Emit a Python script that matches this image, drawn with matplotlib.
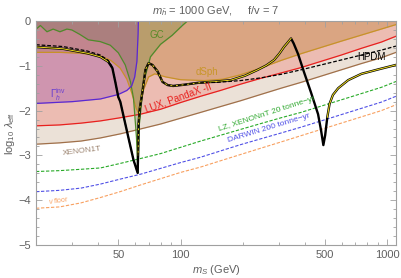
import numpy as np
import matplotlib
matplotlib.use("Agg")
import matplotlib.pyplot as plt
from matplotlib.ticker import FixedLocator, FixedFormatter, NullFormatter

plt.rcParams['font.family'] = ['Liberation Sans', 'DejaVu Sans']
plt.rcParams['mathtext.fontset'] = 'custom'
plt.rcParams['mathtext.rm'] = 'Liberation Sans'
plt.rcParams['mathtext.it'] = 'Liberation Sans:italic'

# direct detection limits (shared mass grid)
dd_m = [20, 26, 33, 41, 51, 64, 80, 100, 125, 156, 195, 244, 306, 382, 478, 598, 748, 935, 1100]
xenon1t_v = [-2.75, -2.72, -2.68, -2.61, -2.52, -2.41, -2.30, -2.17, -2.04, -1.91, -1.78, -1.64, -1.50, -1.37, -1.23, -1.09, -0.95, -0.82, -0.70]
lux_v = [-2.34, -2.32, -2.28, -2.23, -2.16, -2.08, -1.97, -1.82, -1.68, -1.55, -1.41, -1.28, -1.16, -1.04, -0.90, -0.76, -0.61, -0.47, -0.34]
lz_v = [-3.36, -3.34, -3.31, -3.28, -3.18, -3.07, -2.96, -2.82, -2.68, -2.55, -2.42, -2.29, -2.16, -2.04, -1.90, -1.76, -1.62, -1.48, -1.35]
darwin_v = [-3.81, -3.78, -3.73, -3.64, -3.53, -3.42, -3.29, -3.16, -3.04, -2.90, -2.76, -2.63, -2.50, -2.37, -2.23, -2.09, -1.95, -1.81, -1.68]
nufloor_v = [-4.18, -4.15, -4.06, -3.94, -3.81, -3.66, -3.52, -3.38, -3.26, -3.12, -2.98, -2.84, -2.70, -2.56, -2.42, -2.28, -2.14, -2.00, -1.87]

# dwarf spheroidal limit
dsph_m = [20, 26, 33, 41, 46, 51, 55, 58, 61, 62.5, 64, 66, 70, 75, 85, 100, 130, 160, 195, 244, 306, 382, 598, 1100]
dsph_v = [-0.70, -0.70, -0.72, -0.78, -0.88, -1.05, -1.30, -1.60, -1.95, -2.05, -1.90, -1.55, -1.25, -1.18, -1.25, -1.31, -1.33, -1.30, -1.20, -1.05, -0.88, -0.73, -0.45, -0.08]

# galactic centre
gc_m = [19.8, 21.0, 22.6, 24.2, 26.1, 28.2, 29.8, 32.6, 35.8, 40.9, 45.7, 50.0, 54.0, 57.2, 59.2, 61.2, 62.2, 63.2, 66.3, 71.5, 80.0, 91.0, 102, 108]
gc_v = [-0.20, -0.10, -0.24, -0.18, -0.24, -0.18, -0.20, -0.30, -0.42, -0.46, -0.54, -0.71, -0.98, -1.35, -1.72, -2.60, -3.40, -2.30, -1.36, -0.80, -0.52, -0.32, -0.10, 0.0]

# invisible Higgs width
ginv_m = [20, 30, 41, 50, 55, 58, 60, 61.5, 62.3, 62.5]
ginv_v = [-1.84, -1.80, -1.74, -1.64, -1.55, -1.45, -1.25, -0.90, -0.30, 0.0]

# relic abundance curve
relic_m = [20, 27, 35.4, 40.9, 44.7, 46.8, 48.4, 50.0, 51.1, 55.3, 59.2, 62.0, 62.3, 62.6, 63.5, 65.4, 67.6, 70.0,
           73.1, 77.3, 81.8, 86.6, 92, 105, 121.5, 150, 175, 205, 236, 260, 283, 300, 316, 331, 342, 352, 370, 395,
           426, 462, 478, 490, 500, 512, 525, 545, 578, 646, 748, 903, 1100]
relic_v = [-0.58, -0.62, -0.72, -0.80, -0.91, -1.05, -1.37, -1.70, -1.80, -2.50, -3.10, -3.39, -3.00, -2.30, -1.95,
           -1.58, -1.09, -0.94, -0.98, -1.12, -1.36, -1.43, -1.45, -1.42, -1.38, -1.35, -1.32, -1.22, -1.09, -0.99,
           -0.87, -0.73, -0.58, -0.47, -0.39, -0.50, -0.74, -1.14, -1.58, -2.08, -2.45, -2.77, -2.55, -2.15, -1.85,
           -1.65, -1.50, -1.32, -1.18, -1.08, -0.98]

# HPDM
hpdm_m = [20, 27, 35.4, 40.9, 44.7, 46.8, 48.4, 50.0, 51.1, 55.3, 59.2, 62.0, 62.3, 62.6, 63.5, 65.4, 67.6, 70.0,
          73.1, 77.3, 81.8, 86.6, 92, 105, 121.5, 150, 195, 244, 306, 382, 478, 598, 748, 935, 1100]
hpdm_v = [-0.53, -0.57, -0.67, -0.76, -0.88, -1.03, -1.36, -1.70, -1.80, -2.50, -3.10, -3.39, -3.00, -2.30, -1.95,
          -1.58, -1.09, -0.94, -0.98, -1.12, -1.36, -1.43, -1.45, -1.42, -1.38, -1.37, -1.33, -1.27, -1.19, -1.09,
          -0.98, -0.87, -0.76, -0.65, -0.56]

x_major = [50, 100, 500, 1000]
x_minor = [20, 30, 40, 60, 70, 80, 90, 200, 300, 400, 600, 700, 800, 900]
y_major = [0, -1, -2, -3, -4, -5]

fig = plt.figure(figsize=(4.02, 2.78), dpi=100)
ax = fig.add_axes([36/402, 1-245/278, 360/402, 224/278])
ax.set_xscale('log')
ax.set_xlim(20, 1100)
ax.set_ylim(-5, 0)

# shaded exclusion regions
ax.fill_between(dd_m, xenon1t_v, 0, color='#ebe1d7', lw=0)
ax.fill_between(dd_m, lux_v, 0, color='#ecbcb2', lw=0)
ax.fill_between(dsph_m, dsph_v, 0, color='#daa582', lw=0)
ax.fill_between(gc_m, gc_v, 0, color='#6e8c3c', alpha=0.3, lw=0)
ax.fill_between(ginv_m, ginv_v, 0, color='#8c3caa', alpha=0.3, lw=0)

ax.plot(dd_m, xenon1t_v, color='#a0704a', lw=0.9)
ax.plot(dd_m, lux_v, color='#e8201e', lw=0.9)
ax.plot(dsph_m, dsph_v, color='#c89228', lw=0.9)
ax.plot(gc_m, gc_v, color='#4f8a2a', lw=0.9)
ax.plot(ginv_m, ginv_v, color='#5a28d2', lw=0.9)

ax.plot(dd_m, lz_v, color='#28aa28', lw=0.8, ls=(0, (3, 1.5)))
ax.plot(dd_m, darwin_v, color='#5050e6', lw=0.8, ls=(0, (3, 1.5)))
ax.plot(dd_m, nufloor_v, color='#f8a060', lw=0.8, ls=(0, (3, 1.5)))

rm = np.array(relic_m)
rv = np.array(relic_v)
ax.plot(rm, rv, color='black', lw=1.7, solid_capstyle='round')
yel = np.where((rm <= 46) | ((rm > 62.2) & (rm <= 345)) | (rm >= 512), rv, np.nan)
ax.plot(rm, yel, color='#f0dc1e', lw=0.7)
ax.plot(hpdm_m, hpdm_v, color='black', lw=0.9, ls=(0, (3, 1.5)))

# labels
ax.text(77, -0.32, 'GC', color='#5a8a2a', fontsize=7, ha='center', va='center')
ax.text(134, -1.14, 'dSph', color='#c8962a', fontsize=7, ha='center', va='center')
ax.text(840, -0.81, 'HPDM', color='black', fontsize=7, ha='center', va='center')
ax.text(25.7, -1.65, r'$\Gamma_h^{\rm inv}$', color='#6a3fd0', fontsize=7, ha='center', va='center')
ax.text(97, -1.72, 'LUX, PandaX -II', color='#e8201e', fontsize=7, ha='center', va='center', rotation=20)
ax.text(33.4, -2.90, 'XENON1T', color='#9c8470', fontsize=6, ha='center', va='center', rotation=7)
ax.text(262, -2.08, 'LZ, XENONnT 20 tonne\u2212yr', color='#33aa33', fontsize=6, ha='center', va='center', rotation=18)
ax.text(268, -2.40, 'DARWIN 200 tonne\u2212yr', color='#5050e6', fontsize=6, ha='center', va='center', rotation=17)
ax.text(25.7, -4.0, r'$\nu$ floor', color='#f8a060', fontsize=5, ha='center', va='center', rotation=8)

# frame and ticks
for s in ax.spines.values():
    s.set_color('#a0a0a0')
    s.set_linewidth(0.8)
ax.xaxis.set_major_locator(FixedLocator(x_major))
ax.xaxis.set_major_formatter(FixedFormatter([str(v) for v in x_major]))
ax.xaxis.set_minor_locator(FixedLocator(x_minor))
ax.xaxis.set_minor_formatter(NullFormatter())
ax.yaxis.set_major_locator(FixedLocator(y_major))
ax.yaxis.set_major_formatter(FixedFormatter(['0', '\u22121', '\u22122', '\u22123', '\u22124', '\u22125']))
ax.yaxis.set_minor_locator(FixedLocator(np.arange(-5, 0.01, 0.2)))
ax.tick_params(which='both', direction='in', top=True, right=True, color='#a0a0a0',
               labelcolor='#606060', labelsize=8, width=0.6)
ax.tick_params(which='major', length=4)
ax.tick_params(which='minor', length=2)

ax.set_xlabel(r'$m_S$ (GeV)', color='#606060', fontsize=8, labelpad=2)
ax.set_ylabel(r'$\log_{10}\,\lambda_{\rm eff}$', color='#606060', fontsize=8, labelpad=1)
ax.set_title(r'$m_{\tilde{h}}$ = 1000 GeV,     f/v = 7', color='#606060', fontsize=8, pad=5)

fig.savefig('out.png', dpi=100)
